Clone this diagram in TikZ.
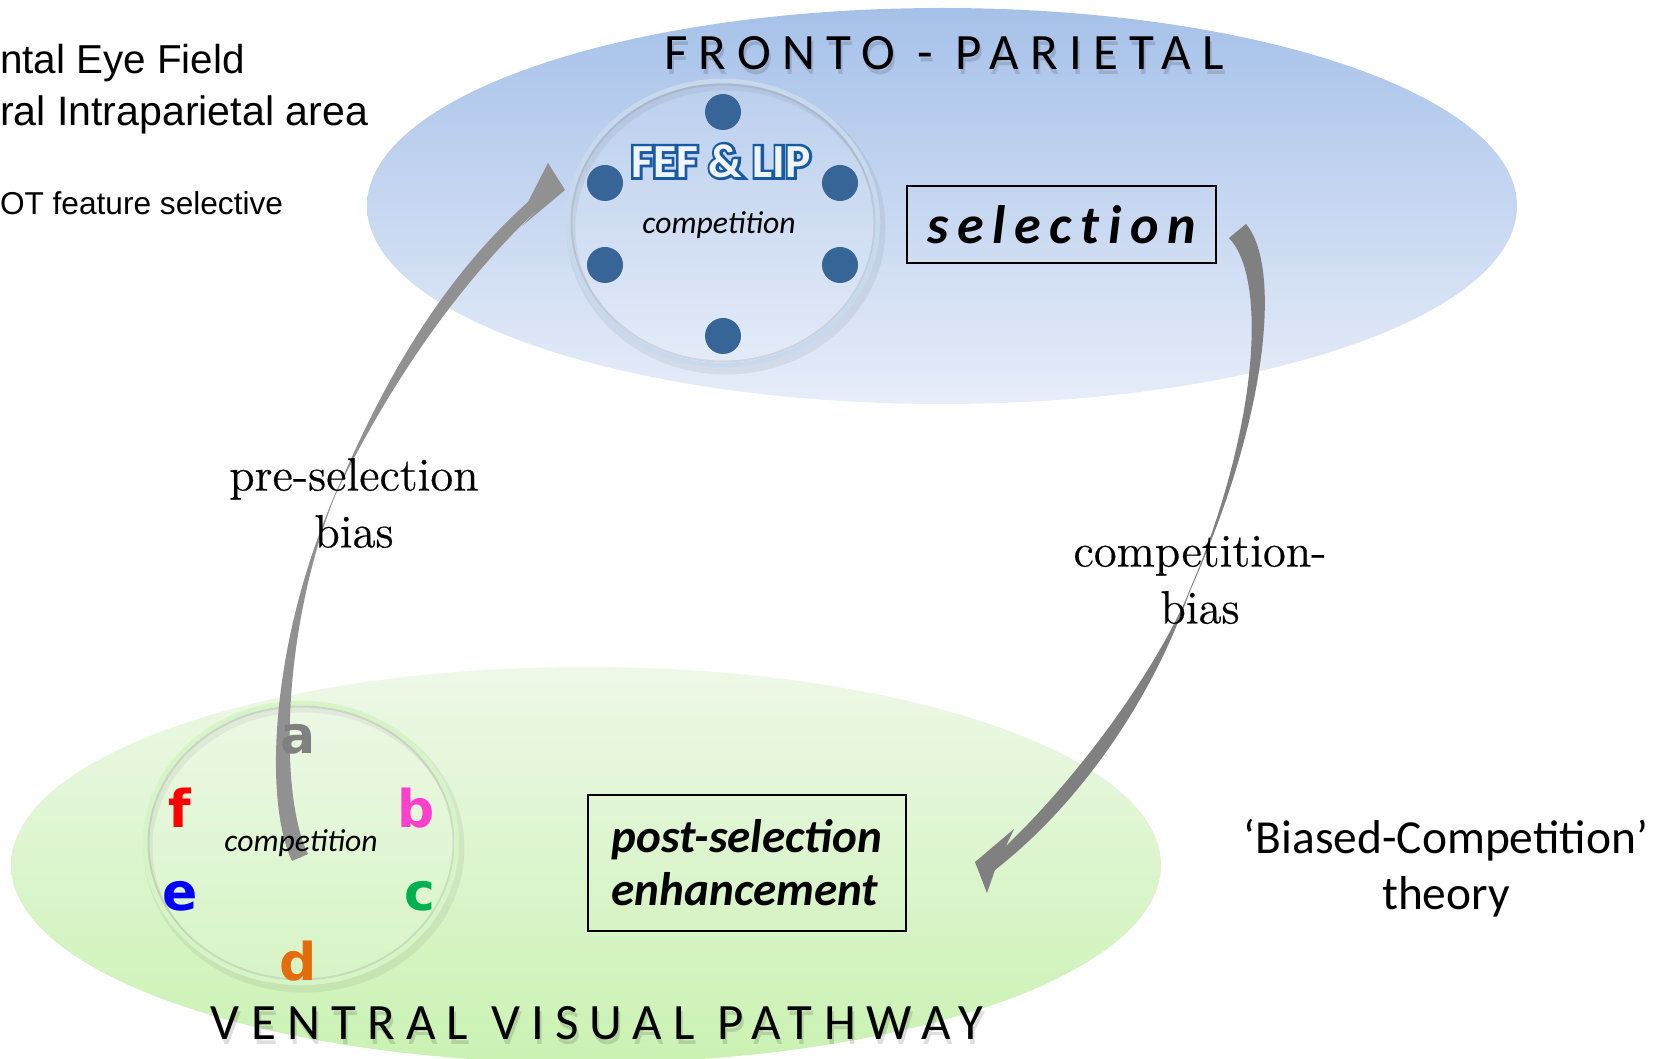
\documentclass[tikz,border=0pt]{standalone}
\usepackage{fontspec}
\newfontfamily\carl{Carlito}
\newfontfamily\carltitle[LetterSpace=22]{Carlito}
\newfontfamily\carlsel[LetterSpace=16,Ligatures=NoCommon]{Carlito}
\newfontfamily\arialf{Liberation Sans}
\newfontfamily\djv{DejaVu Sans}
\newfontfamily\lmh[FakeBold=0.4]{lmroman12-regular.otf}
\definecolor{fpTop}{RGB}{166,193,233}
\definecolor{fpBot}{RGB}{231,237,249}
\definecolor{vvTop}{RGB}{238,248,232}
\definecolor{vvBot}{RGB}{202,242,178}
\definecolor{dotblue}{RGB}{55,101,152}
\definecolor{ringblue}{RGB}{200,217,238}
\definecolor{ringgreen}{RGB}{214,244,198}
\definecolor{fefblue}{RGB}{25,90,165}
\definecolor{fefin}{RGB}{240,245,252}
\definecolor{arrL}{RGB}{145,145,145}
\definecolor{arrR}{RGB}{128,128,128}
\definecolor{la}{RGB}{128,128,128}
\definecolor{lb}{RGB}{255,64,205}
\definecolor{lc}{RGB}{0,176,80}
\definecolor{ld}{RGB}{228,108,10}
\definecolor{le}{RGB}{0,0,255}
\definecolor{lf}{RGB}{255,0,0}
\newcommand\outlined[1]{\rlap{\color{fefblue}\special{pdf:literal direct 2 Tr 1.5 w 0.098 0.353 0.647 RG}#1\special{pdf:literal direct 0 Tr}}{\color{fefin}#1}}
\begin{document}
\begin{tikzpicture}[x=0.1mm,y=-0.1mm,
  every node/.style={inner sep=0pt, outer sep=0pt},
  title/.style={font=\carltitle\fontsize{14.5}{17}\selectfont},
  comp/.style={font=\carl\itshape\fontsize{9}{11}\selectfont},
  lbl/.style={font=\lmh\fontsize{13.3}{16.2}\selectfont, align=center},
  letter/.style={font=\djv\bfseries\fontsize{14.8}{17}\selectfont, anchor=base},
  fef/.style={font=\carl\bfseries\fontsize{13.5}{16}\selectfont},
  dot/.style={fill=dotblue},
  boxed/.style={draw=black, line width=0.2mm}
]
\useasboundingbox (0,0) rectangle (1667,1059);
\begin{scope}
\clip (0,0) rectangle (1667,1059);
\shade[top color=fpTop, bottom color=fpBot] (942,206) ellipse [x radius=57.5mm, y radius=19.8mm];
\shade[top color=vvTop, bottom color=vvBot] (586,865) ellipse [x radius=57.5mm, y radius=19.8mm];
\end{scope}

% top-left texts (cut at left edge)
\node[font=\arialf\fontsize{11.5}{13}\selectfont, anchor=base west] (t1) at (0,74) {ntal Eye Field};
\node[font=\arialf\fontsize{11.7}{13}\selectfont, anchor=base west] (t2) at (0,126) {ral Intraparietal area};
\node[font=\arialf\fontsize{9}{10}\selectfont, anchor=base west] (t3) at (0,215) {OT feature selective};

% FEF circle
\draw[line width=0.9mm, black, opacity=.06] (726,228) ellipse [x radius=15.5mm, y radius=14.2mm];
\fill[white, opacity=.12] (723,223) ellipse [x radius=15.5mm, y radius=14.2mm];
\draw[line width=0.2mm, gray, opacity=.2] (723,223) ellipse [x radius=15.15mm, y radius=13.85mm];
\draw[line width=0.45mm, ringblue] (723,223) ellipse [x radius=15.5mm, y radius=14.2mm];
\fill[dot] (723,112) circle [radius=1.8mm];
\fill[dot] (605,183) circle [radius=1.8mm];
\fill[dot] (840,183) circle [radius=1.8mm];
\fill[dot] (605,265) circle [radius=1.8mm];
\fill[dot] (840,265) circle [radius=1.8mm];
\fill[dot] (723,336) circle [radius=1.8mm];

% green circle
\draw[line width=0.9mm, black, opacity=.06] (304,848) ellipse [x radius=15.6mm, y radius=14mm];
\fill[white, opacity=.12] (301,843) ellipse [x radius=15.6mm, y radius=14mm];
\draw[line width=0.2mm, gray, opacity=.2] (301,843) ellipse [x radius=15.25mm, y radius=13.65mm];
\draw[line width=0.45mm, ringgreen] (301,843) ellipse [x radius=15.6mm, y radius=14mm];

% left arrow (pre-selection bias): twisted ribbon
\coordinate (lT) at (335,495);
\draw[arrL, line width=0.08mm] (300,858) .. controls (272,800) and (275,640) .. (lT)
  .. controls (370,420) and (430,300) .. (532,207);
\fill[arrL] (292,861) .. controls (263,800) and (271,640) .. (lT)
  .. controls (368,419) and (424,295) .. (528,202)
  -- (548,163) -- (565,190) -- (522,226) -- (540,207)
  .. controls (436,305) and (372,421) .. (lT)
  .. controls (279,640) and (281,800) .. (308,854) -- cycle;

% right arrow (competition-bias): twisted ribbon
\coordinate (rT) at (1190,590);
\draw[arrR, line width=0.08mm] (1238,231) .. controls (1273,270) and (1265,420) .. (rT)
  .. controls (1160,670) and (1090,780) .. (1000,858);
\fill[arrR] (1246,224) .. controls (1282,266) and (1268,420) .. (rT)
  .. controls (1163,672) and (1097,790) .. (995,870)
  -- (987,893) -- (975,862) -- (1014,829) -- (1006,846)
  .. controls (1083,772) and (1157,668) .. (rT)
  .. controls (1261,420) and (1266,276) .. (1229,238) -- cycle;

% titles with soft shadow
\node[title, text=black, opacity=.13] (fpsh) at (946,58) {FRONTO - PARIETAL};
\node[title] (fp) at (944,53) {FRONTO - PARIETAL};
\node[title, text=black, opacity=.13] (vvsh) at (599,1028) {VENTRAL VISUAL PATHWAY};
\node[title] (vv) at (597,1023) {VENTRAL VISUAL PATHWAY};

% FEF & LIP outlined text
\node[fef] (fef) at (721,161) {\outlined{FEF \& LIP}};
\node[comp] (compT) at (719,225) {competition};

% letters
\node[letter, text=la] (la) at (298,753) {a};
\node[letter, text=lb] (lb) at (416,827) {b};
\node[letter, text=lc] (lc) at (420,910) {c};
\node[letter, text=ld] (ld) at (298,980) {d};
\node[letter, text=le] (le) at (180,910) {e};
\node[letter, text=lf] (lf) at (180,827) {f};
\node[comp] (compB) at (301,843) {competition};

% boxes
\node[boxed, minimum width=30.9mm, minimum height=7.7mm, font=\carlsel\bfseries\itshape\fontsize{15.4}{18}\selectfont] (sel) at (1061.5,224.5) {selection};
\node[boxed, minimum width=31.8mm, minimum height=13.6mm, align=left, font=\carl\bfseries\itshape\fontsize{13.4}{15.1}\selectfont] (post) at (747,863) {post-selection\\enhancement};

% labels
\node[lbl] (pre) at (354,503) {pre-selection\\bias};
\node[lbl] (cb) at (1200,580) {competition-\\bias};
\node[font=\carl\fontsize{13.5}{16}\selectfont, align=center] (bct) at (1446,868) {‘Biased-Competition’\\theory};
\end{tikzpicture}
\end{document}
